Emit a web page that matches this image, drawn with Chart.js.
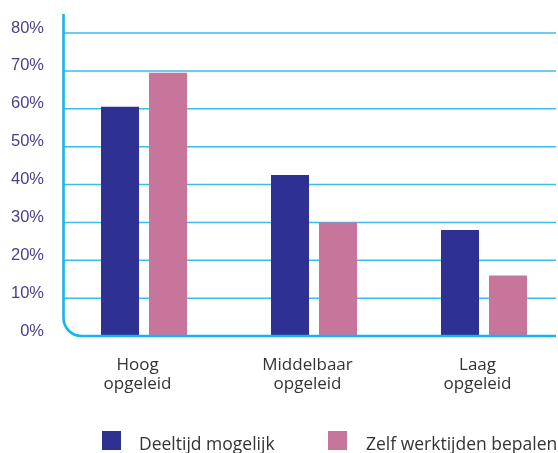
<!DOCTYPE html>
<html>
<head>
<meta charset="utf-8">
<script src="https://cdn.jsdelivr.net/npm/chart.js@4.4.1/dist/chart.umd.min.js"></script>
<style>
  html, body { margin: 0; padding: 0; background: #fff; overflow: hidden; }
  #wrap { width: 580px; height: 453px; }
</style>
</head>
<body>
<div id="wrap"><canvas id="myChart"></canvas></div>
<script>
const categories = [["Hoog", "opgeleid"], ["Middelbaar", "opgeleid"], ["Laag", "opgeleid"]];
const deeltijdMogelijk = [60.5, 42.5, 28];
const zelfWerktijden = [69.5, 30, 16];
const seriesNames = ["Deeltijd mogelijk", "Zelf werktijden bepalen"];
const yTicks = [0, 10, 20, 30, 40, 50, 60, 70, 80];

const navy = "#2e3192";
const pink = "#c8759c";
const cyan = "#16b5e9";

// gridlines behind the bars, rounded axis frame on top
const frame = {
  id: "frame",
  beforeDatasetsDraw(chart) {
    const { ctx, scales: { y } } = chart;
    ctx.save();
    ctx.strokeStyle = "#3cbce9";
    ctx.lineWidth = 1.5;
    yTicks.slice(1).forEach((v) => {
      const py = y.getPixelForValue(v);
      ctx.beginPath();
      ctx.moveTo(64, py);
      ctx.lineTo(556, py);
      ctx.stroke();
    });
    ctx.restore();
  },
  afterDatasetsDraw(chart) {
    const { ctx, scales: { y } } = chart;
    const base = y.getPixelForValue(0);
    const r = 18;
    ctx.save();
    ctx.strokeStyle = cyan;
    ctx.lineWidth = 2.6;
    ctx.beginPath();
    ctx.moveTo(63.5, 14);
    ctx.lineTo(63.5, base - r);
    ctx.arcTo(63.5, base, 63.5 + r, base, r);
    ctx.lineTo(556, base);
    ctx.stroke();
    ctx.restore();
  },
};

// legend laid out under the axis labels
const bottomLegend = {
  id: "bottomLegend",
  afterDraw(chart) {
    const { ctx } = chart;
    const spots = [{ box: 102, text: 139 }, { box: 328, text: 366 }];
    ctx.save();
    ctx.font = "17.5px 'Open Sans'";
    ctx.textBaseline = "alphabetic";
    chart.data.datasets.forEach((ds, i) => {
      ctx.fillStyle = ds.backgroundColor;
      ctx.fillRect(spots[i].box, 431, 19, 19);
      ctx.fillStyle = "#333333";
      ctx.fillText(ds.label, spots[i].text, 449.5);
    });
    ctx.restore();
  },
};

const ctx = document.getElementById("myChart").getContext("2d");
const myChart = new Chart(ctx, {
  type: "bar",
  data: {
    labels: categories,
    datasets: [
      {
        label: seriesNames[0],
        data: deeltijdMogelijk,
        backgroundColor: navy,
        categoryPercentage: 0.5647,
        barPercentage: 0.7917,
      },
      {
        label: seriesNames[1],
        data: zelfWerktijden,
        backgroundColor: pink,
        categoryPercentage: 0.5647,
        barPercentage: 0.7917,
      },
    ],
  },
  options: {
    responsive: true,
    maintainAspectRatio: false,
    animation: false,
    layout: { padding: { top: 33, right: 11, left: 0, bottom: 0 } },
    scales: {
      x: {
        grid: { display: false },
        border: { display: false },
        afterFit(scale) { scale.height = 117; },
        ticks: {
          color: "#333333",
          font: { family: "'Open Sans'", size: 17, lineHeight: 1.1 },
          padding: 12,
          labelOffset: -6.5,
          maxRotation: 0,
        },
      },
      y: {
        min: 0,
        max: 80,
        grid: { display: false },
        border: { display: false },
        afterFit(scale) { scale.width = 59; },
        afterBuildTicks(scale) { scale.ticks = yTicks.map((v) => ({ value: v })); },
        ticks: {
          color: "#4b4090",
          font: { family: "'Liberation Sans'", size: 16.5 },
          padding: 7,
          labelOffset: -5,
          callback: (v) => v + "%",
        },
      },
    },
    plugins: {
      legend: { display: false },
      tooltip: { enabled: false },
    },
  },
  plugins: [frame, bottomLegend],
});
</script>
</body>
</html>
